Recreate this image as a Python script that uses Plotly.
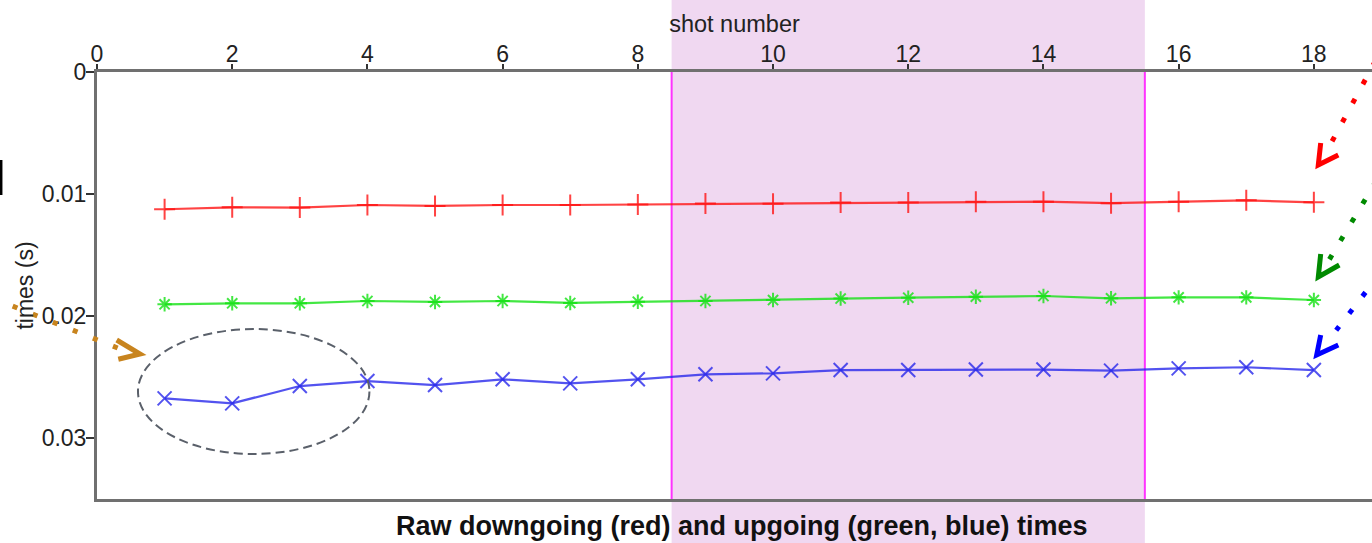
import plotly.graph_objects as go

# Shot numbers and picked first-break times (seconds)
shots = list(range(1, 19))
down_red = [0.01125, 0.01109, 0.01111, 0.01090, 0.01098, 0.01090, 0.01090, 0.01086, 0.01078,
            0.01080, 0.01070, 0.01070, 0.01063, 0.01063, 0.01075, 0.01063, 0.01052, 0.01068]
up_green = [0.01904, 0.01896, 0.01896, 0.01877, 0.01885, 0.01877, 0.01893, 0.01883, 0.01877,
            0.01869, 0.01857, 0.01850, 0.01842, 0.01836, 0.01855, 0.01847, 0.01847, 0.01869]
up_blue = [0.02675, 0.02716, 0.02574, 0.02533, 0.02566, 0.02519, 0.02552, 0.02519, 0.02478,
           0.02470, 0.02443, 0.02443, 0.02439, 0.02439, 0.02448, 0.02429, 0.02420, 0.02443]

x_ticks = [0, 2, 4, 6, 8, 10, 12, 14, 16, 18]
y_ticks = [0, 0.01, 0.02, 0.03]
y_tick_text = ["0", "0.01", "0.02", "0.03"]

# Highlighted range of shots
band = [8.5, 15.5]
# Region of the early blue picks that is circled
circled = dict(x=[0.606, 4.03], y=[0.02107, 0.03131])

X_RANGE = [0, 18.86]
Y_RANGE = [0.035, 0]

W, H = 1372, 543
M = dict(l=97, r=0, t=72, b=44)
PL, PR, PT, PB = M["l"], W - M["r"], M["t"], H - M["b"]

FONT = "Liberation Sans, Arial, Helvetica, sans-serif"


def xpaper(v):
    return (v - X_RANGE[0]) / (X_RANGE[1] - X_RANGE[0])


def px(xp, yp):
    """Pixel position on the page -> paper coordinates."""
    return (xp - PL) / (PR - PL), (PB - yp) / (PB - PT)


fig = go.Figure()

series = [
    (down_red, "rgba(255,20,20,0.8)", "cross-thin", 15),
    (up_green, "rgba(20,225,20,0.8)", "asterisk", 12),
    (up_blue, "rgba(40,40,235,0.8)", "x-thin", 14),
]
for vals, col, sym, size in series:
    fig.add_trace(go.Scatter(
        x=shots, y=vals, mode="lines+markers",
        line=dict(color=col, width=2.2),
        marker=dict(symbol=sym, size=size, color=col, line=dict(color=col, width=2)),
        showlegend=False, hoverinfo="skip",
    ))

shapes = []
# shaded band spanning the whole page height
shapes.append(dict(type="rect", xref="paper", yref="paper",
                   x0=xpaper(band[0]), x1=xpaper(band[1]), y0=-0.3, y1=1.4,
                   fillcolor="rgb(240,216,241)", line=dict(width=0), layer="below"))
for b in band:
    shapes.append(dict(type="line", xref="paper", yref="paper",
                       x0=xpaper(b), x1=xpaper(b), y0=0, y1=1,
                       line=dict(color="#ff33ff", width=2), layer="below"))

# dashed ellipse around the early blue picks
shapes.append(dict(type="circle", xref="x", yref="y",
                   x0=circled["x"][0], x1=circled["x"][1],
                   y0=circled["y"][0], y1=circled["y"][1],
                   line=dict(color="#5a606a", width=2, dash="9px,5px"), layer="above"))

# dotted pointer arrows: colour, line start, line end, (arm, tip, arm) of the chevron head
pointers = [
    ("#ff0000", (1375.5, 60.8), (1332.1, 141.2), [(1320.7, 143), (1318.3, 165), (1338.3, 155)]),
    ("#008a00", (1376.3, 180.9), (1329.4, 259.4), [(1320.7, 254), (1318.3, 277), (1339.3, 265)]),
    ("#0000ff", (1378.7, 275.3), (1336.2, 330.3), [(1320.7, 335), (1316.7, 355), (1338.3, 345)]),
    ("#c8841e", (12.7, 306.1), (119.0, 348.6), [(116.7, 340), (140.0, 354), (118.3, 359.3)]),
]
for col, a, b, head in pointers:
    x0, y0 = px(*a)
    x1, y1 = px(*b)
    shapes.append(dict(type="line", xref="paper", yref="paper", x0=x0, y0=y0, x1=x1, y1=y1,
                       line=dict(color=col, width=5, dash="5px,16.6px"), layer="above"))
    pts = [px(*p) for p in head]
    path = "M {:.5f},{:.5f} L {:.5f},{:.5f} L {:.5f},{:.5f}".format(
        pts[0][0], pts[0][1], pts[1][0], pts[1][1], pts[2][0], pts[2][1])
    shapes.append(dict(type="path", xref="paper", yref="paper", path=path,
                       line=dict(color=col, width=5), layer="above"))

# short black mark at the left edge
bx0, by0 = px(1.2, 160)
bx1, by1 = px(1.2, 195)
shapes.append(dict(type="line", xref="paper", yref="paper", x0=bx0, y0=by0, x1=bx1, y1=by1,
                   line=dict(color="#000000", width=2.5), layer="above"))

tx, ty = px(741, 526)
fig.update_layout(
    width=W, height=H, margin=M,
    paper_bgcolor="white", plot_bgcolor="rgba(0,0,0,0)",
    font=dict(family=FONT, size=23, color="#222222"),
    shapes=shapes,
    annotations=[dict(text="<b>Raw downgoing (red) and upgoing (green, blue) times</b>",
                      xref="paper", yref="paper", x=tx, y=ty, xanchor="center", yanchor="middle",
                      showarrow=False, font=dict(family=FONT, size=27, color="#111111"))],
    xaxis=dict(
        side="top", range=X_RANGE, tickvals=x_ticks,
        ticks="outside", ticklen=5, tickwidth=2, tickcolor="#333333",
        showline=True, linecolor="#707070", linewidth=3, mirror=True,
        showgrid=False, zeroline=False, ticklabelstandoff=-7,
        title=dict(text="shot number", standoff=2, font=dict(size=23.5)),
        tickfont=dict(size=23),
    ),
    yaxis=dict(
        range=Y_RANGE, tickvals=y_ticks, ticktext=y_tick_text,
        ticks="outside", ticklen=8, tickwidth=2, tickcolor="#333333",
        showline=True, linecolor="#707070", linewidth=3, mirror=False,
        showgrid=False, zeroline=False, ticklabelstandoff=-5,
        title=dict(text="times (s)", standoff=2, font=dict(size=23)),
        tickfont=dict(size=23),
    ),
)

fig.write_html("out.html")
